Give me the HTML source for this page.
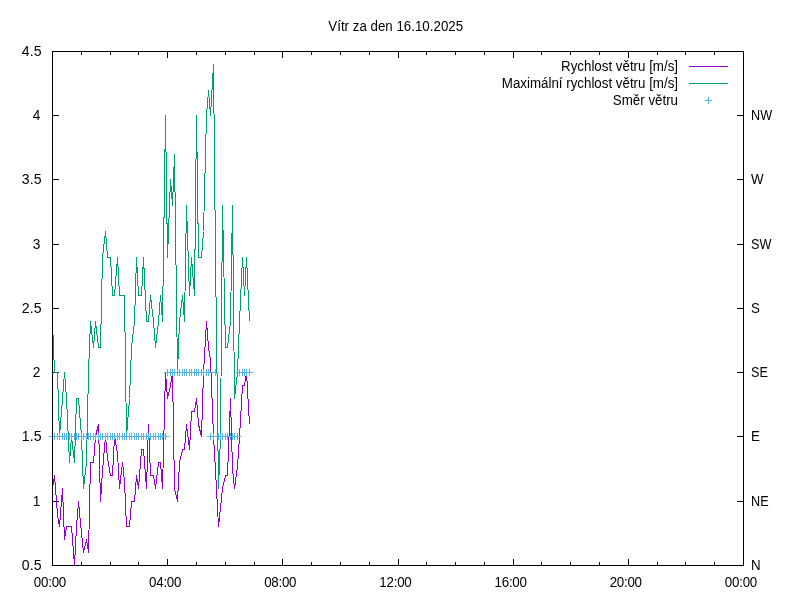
<!DOCTYPE html>
<html><head><meta charset="utf-8"><title>Vítr za den 16.10.2025</title>
<style>
html,body{margin:0;padding:0;background:#fff;}
body{width:800px;height:600px;overflow:hidden;}
svg{display:block;}
text{font-family:"Liberation Sans",sans-serif;font-size:13.33px;fill:#000;}
</style></head><body>
<svg width="800" height="600" viewBox="0 0 800 600">
<rect x="0" y="0" width="800" height="600" fill="#ffffff"/>
<g shape-rendering="crispEdges" stroke-linecap="butt" stroke-linejoin="miter">
<path d="M52 565.5H59M52 501.5H59M737 501.5H744M52 436.5H59M737 436.5H744M52 372.5H59M737 372.5H744M52 308.5H59M737 308.5H744M52 244.5H59M737 244.5H744M52 179.5H59M737 179.5H744M52 115.5H59M737 115.5H744M52 51.5H59M52.5 566V559M52.5 51V58M81.5 566V562M81.5 51V55M110.5 566V562M110.5 51V55M138.5 566V562M138.5 51V55M167.5 566V559M167.5 51V58M196.5 566V562M196.5 51V55M225.5 566V562M225.5 51V55M254.5 566V562M254.5 51V55M282.5 566V559M282.5 51V58M311.5 566V562M311.5 51V55M340.5 566V562M340.5 51V55M369.5 566V562M369.5 51V55M398.5 566V559M398.5 51V58M426.5 566V562M426.5 51V55M455.5 566V562M455.5 51V55M484.5 566V562M484.5 51V55M513.5 566V559M513.5 51V58M541.5 566V562M541.5 51V55M570.5 566V562M570.5 51V55M599.5 566V562M599.5 51V55M628.5 566V559M628.5 51V58M657.5 566V562M657.5 51V55M685.5 566V562M685.5 51V55M714.5 566V562M714.5 51V55M743.5 566V559M743.5 51V58" stroke="#000" stroke-width="1" fill="none"/>
<polyline points="52.5,488.5 54.5,475.5 57.5,514.5 59.5,526.5 62.5,488.5 64.5,539.5 66.5,526.5 69.5,526.5 71.5,526.5 74.5,565.5 76.5,526.5 78.5,501.5 81.5,533.5 83.5,552.5 86.5,539.5 88.5,552.5 90.5,462.5 93.5,462.5 95.5,436.5 98.5,424.5 100.5,501.5 102.5,470.5 105.5,436.5 107.5,458.5 110.5,475.5 112.5,475.5 114.5,436.5 117.5,453.5 119.5,488.5 122.5,462.5 124.5,481.5 126.5,526.5 129.5,526.5 131.5,501.5 134.5,501.5 136.5,475.5 138.5,488.5 141.5,449.5 143.5,449.5 146.5,488.5 148.5,424.5 150.5,475.5 153.5,475.5 155.5,488.5 158.5,462.5 160.5,462.5 162.5,488.5 165.5,372.5 167.5,398.5 170.5,385.5 172.5,372.5 174.5,488.5 177.5,501.5 179.5,462.5 182.5,449.5 184.5,449.5 186.5,424.5 189.5,449.5 191.5,411.5 194.5,411.5 196.5,398.5 198.5,424.5 201.5,436.5 203.5,372.5 206.5,321.5 208.5,347.5 210.5,359.5 213.5,436.5 215.5,470.5 218.5,526.5 220.5,507.5 222.5,488.5 225.5,475.5 227.5,475.5 230.5,398.5 232.5,469.5 234.5,488.5 237.5,466.5 239.5,436.5 242.5,385.5 244.5,385.5 246.5,372.5 249.5,424.5" fill="none" stroke="#9400d3" stroke-width="1"/>
<polyline points="52.5,321.5 54.5,372.5 57.5,372.5 59.5,436.5 62.5,398.5 64.5,372.5 66.5,398.5 69.5,462.5 71.5,436.5 74.5,462.5 76.5,398.5 78.5,398.5 81.5,436.5 83.5,488.5 86.5,462.5 88.5,372.5 90.5,321.5 93.5,347.5 95.5,321.5 98.5,347.5 100.5,347.5 102.5,257.5 105.5,231.5 107.5,257.5 110.5,257.5 112.5,295.5 114.5,295.5 117.5,257.5 119.5,295.5 122.5,295.5 124.5,295.5 126.5,436.5 129.5,398.5 131.5,347.5 134.5,321.5 136.5,257.5 138.5,295.5 141.5,295.5 143.5,257.5 146.5,321.5 148.5,321.5 150.5,295.5 153.5,321.5 155.5,347.5 158.5,321.5 160.5,295.5 162.5,321.5 165.5,115.5 167.5,257.5 170.5,179.5 172.5,205.5 174.5,154.5 177.5,372.5 179.5,321.5 182.5,295.5 184.5,321.5 186.5,205.5 189.5,295.5 191.5,257.5 194.5,295.5 196.5,115.5 198.5,257.5 201.5,257.5 203.5,231.5 206.5,115.5 208.5,90.5 210.5,115.5 213.5,64.5 215.5,257.5 218.5,488.5 220.5,436.5 222.5,205.5 225.5,347.5 227.5,347.5 230.5,321.5 232.5,205.5 234.5,398.5 237.5,372.5 239.5,321.5 242.5,257.5 244.5,295.5 246.5,257.5 249.5,321.5" fill="none" stroke="#009e73" stroke-width="1"/>
<path d="M49 436.5H56M52.5 433V440M51 436.5H58M54.5 433V440M54 436.5H61M57.5 433V440M56 436.5H63M59.5 433V440M59 436.5H66M62.5 433V440M61 436.5H68M64.5 433V440M63 436.5H70M66.5 433V440M66 436.5H73M69.5 433V440M68 436.5H75M71.5 433V440M71 436.5H78M74.5 433V440M73 436.5H80M76.5 433V440M75 436.5H82M78.5 433V440M78 436.5H85M81.5 433V440M80 436.5H87M83.5 433V440M83 436.5H90M86.5 433V440M85 436.5H92M88.5 433V440M87 436.5H94M90.5 433V440M90 436.5H97M93.5 433V440M92 436.5H99M95.5 433V440M95 436.5H102M98.5 433V440M97 436.5H104M100.5 433V440M99 436.5H106M102.5 433V440M102 436.5H109M105.5 433V440M104 436.5H111M107.5 433V440M107 436.5H114M110.5 433V440M109 436.5H116M112.5 433V440M111 436.5H118M114.5 433V440M114 436.5H121M117.5 433V440M116 436.5H123M119.5 433V440M119 436.5H126M122.5 433V440M121 436.5H128M124.5 433V440M123 436.5H130M126.5 433V440M126 436.5H133M129.5 433V440M128 436.5H135M131.5 433V440M131 436.5H138M134.5 433V440M133 436.5H140M136.5 433V440M135 436.5H142M138.5 433V440M138 436.5H145M141.5 433V440M140 436.5H147M143.5 433V440M143 436.5H150M146.5 433V440M145 436.5H152M148.5 433V440M147 436.5H154M150.5 433V440M150 436.5H157M153.5 433V440M152 436.5H159M155.5 433V440M155 436.5H162M158.5 433V440M157 436.5H164M160.5 433V440M159 436.5H166M162.5 433V440M162 436.5H169M165.5 433V440M164 372.5H171M167.5 369V376M167 372.5H174M170.5 369V376M169 372.5H176M172.5 369V376M171 372.5H178M174.5 369V376M174 372.5H181M177.5 369V376M176 372.5H183M179.5 369V376M179 372.5H186M182.5 369V376M181 372.5H188M184.5 369V376M183 372.5H190M186.5 369V376M186 372.5H193M189.5 369V376M188 372.5H195M191.5 369V376M191 372.5H198M194.5 369V376M193 372.5H200M196.5 369V376M195 372.5H202M198.5 369V376M198 372.5H205M201.5 369V376M200 372.5H207M203.5 369V376M203 372.5H210M206.5 369V376M205 372.5H212M208.5 369V376M207 436.5H214M210.5 433V440M210 436.5H217M213.5 433V440M212 372.5H219M215.5 369V376M215 436.5H222M218.5 433V440M217 436.5H224M220.5 433V440M219 436.5H226M222.5 433V440M222 436.5H229M225.5 433V440M224 436.5H231M227.5 433V440M227 436.5H234M230.5 433V440M229 436.5H236M232.5 433V440M231 436.5H238M234.5 433V440M234 436.5H241M237.5 433V440M236 372.5H243M239.5 369V376M239 372.5H246M242.5 369V376M241 372.5H248M244.5 369V376M243 372.5H250M246.5 369V376M246 372.5H253M249.5 369V376" stroke="#56b4e9" stroke-width="1" fill="none"/>
<path d="M689 66.5H728" stroke="#9400d3" stroke-width="1" fill="none"/>
<path d="M689 83.5H728" stroke="#009e73" stroke-width="1" fill="none"/>
<path d="M705 100.5H712M708.5 97V104" stroke="#56b4e9" stroke-width="1" fill="none"/>
<rect x="52.5" y="51.5" width="691" height="514" fill="none" stroke="#000" stroke-width="1"/>
</g>
<g style="filter:grayscale(1)">
<text transform="translate(395.7 31) scale(1 1.07)" text-anchor="middle">Vítr za den 16.10.2025</text>
<text transform="translate(41.5 570) scale(1.06 1.07)" text-anchor="end">0.5</text>
<text transform="translate(40.5 506) scale(1.03 1.07)" text-anchor="end">1</text>
<text transform="translate(41.5 441) scale(1.06 1.07)" text-anchor="end">1.5</text>
<text transform="translate(40.5 377) scale(1.03 1.07)" text-anchor="end">2</text>
<text transform="translate(41.5 313) scale(1.06 1.07)" text-anchor="end">2.5</text>
<text transform="translate(40.5 249) scale(1.03 1.07)" text-anchor="end">3</text>
<text transform="translate(41.5 184) scale(1.06 1.07)" text-anchor="end">3.5</text>
<text transform="translate(40.5 120) scale(1.03 1.07)" text-anchor="end">4</text>
<text transform="translate(41.5 56) scale(1.06 1.07)" text-anchor="end">4.5</text>
<text transform="translate(49.9 587) scale(1 1.07)" text-anchor="middle" letter-spacing="-0.25">00:00</text>
<text transform="translate(165.1 587) scale(1 1.07)" text-anchor="middle" letter-spacing="-0.25">04:00</text>
<text transform="translate(280.2 587) scale(1 1.07)" text-anchor="middle" letter-spacing="-0.25">08:00</text>
<text transform="translate(395.4 587) scale(1 1.07)" text-anchor="middle" letter-spacing="-0.25">12:00</text>
<text transform="translate(510.6 587) scale(1 1.07)" text-anchor="middle" letter-spacing="-0.25">16:00</text>
<text transform="translate(625.7 587) scale(1 1.07)" text-anchor="middle" letter-spacing="-0.25">20:00</text>
<text transform="translate(740.9 587) scale(1 1.07)" text-anchor="middle" letter-spacing="-0.25">00:00</text>
<text transform="translate(751 570) scale(1 1.07)">N</text>
<text transform="translate(751 506) scale(0.95 1.07)">NE</text>
<text transform="translate(751 441) scale(1 1.07)">E</text>
<text transform="translate(751 377) scale(0.95 1.07)">SE</text>
<text transform="translate(751 313) scale(1 1.07)">S</text>
<text transform="translate(751 249) scale(0.95 1.07)">SW</text>
<text transform="translate(751 184) scale(1 1.07)">W</text>
<text transform="translate(751 120) scale(0.95 1.07)">NW</text>
<text transform="translate(678 71) scale(1 1.07)" text-anchor="end">Rychlost větru [m/s]</text>
<text transform="translate(678 88) scale(1 1.07)" text-anchor="end">Maximální rychlost větru [m/s]</text>
<text transform="translate(678 105) scale(1 1.07)" text-anchor="end">Směr větru</text>
</g>
</svg></body></html>
